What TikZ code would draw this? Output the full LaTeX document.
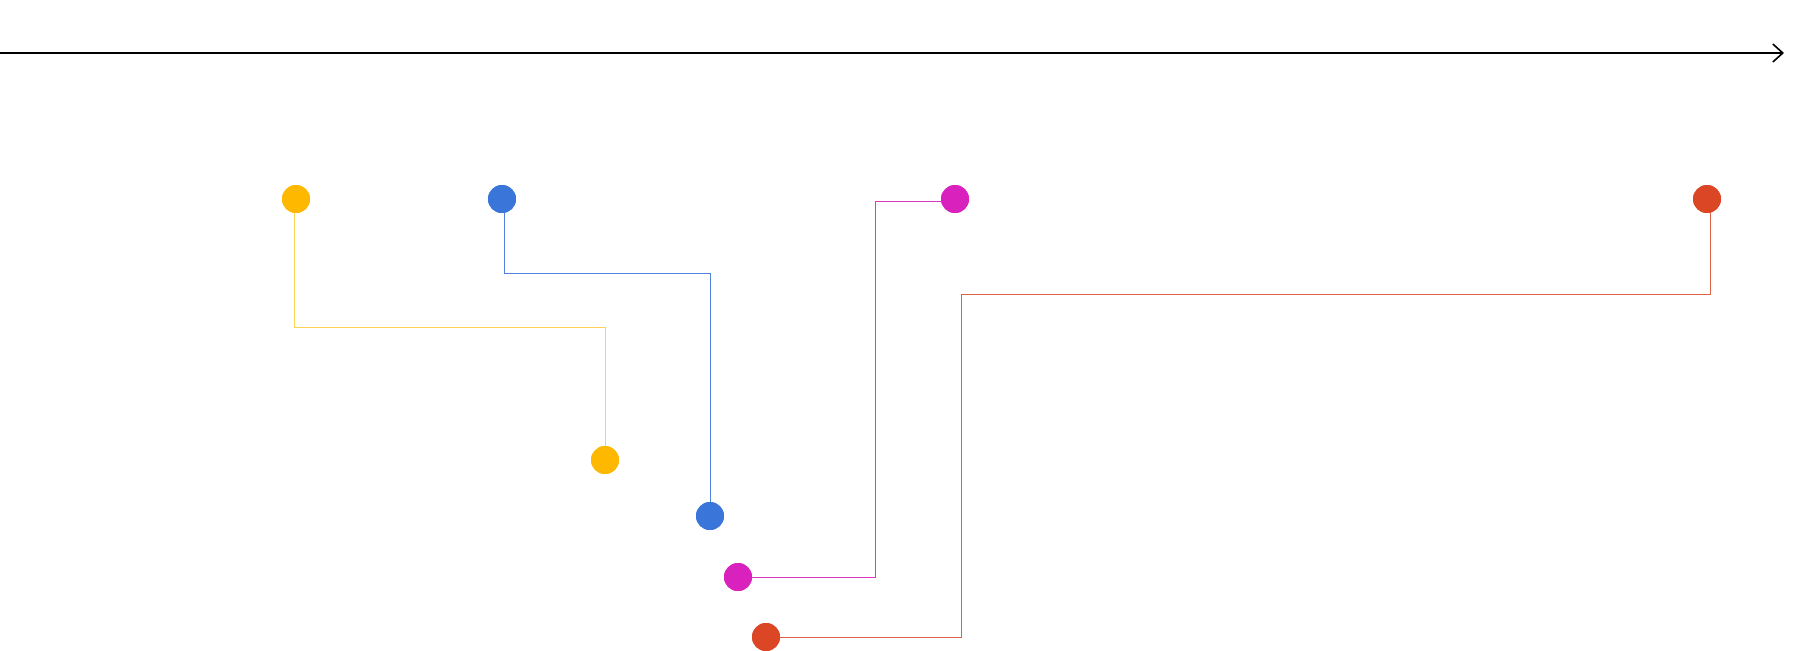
\documentclass[tikz,border=0pt]{standalone}
\usetikzlibrary{arrows.meta}
\definecolor{cyel}{HTML}{FFB800}
\definecolor{cblu}{HTML}{3A75DA}
\definecolor{cmag}{HTML}{D921BE}
\definecolor{cred}{HTML}{DB4625}
\begin{document}
\begin{tikzpicture}[x=0.5pt,y=-0.5pt,
  dot/.style={circle,fill=#1,inner sep=0pt,minimum size=14pt},
  link/.style={draw=#1,line width=0.5pt}]
\useasboundingbox (0,0) rectangle (1796,650);
% axis
\coordinate (a0) at (0,53);
\coordinate (a1) at (1784,53);
\draw[line width=0.8pt,-{Straight Barb[length=5pt,width=9pt]}] (a0) -- (a1);
% dots
\node[dot=cyel] (y1) at (296,199) {};
\node[dot=cyel] (y2) at (605,460) {};
\node[dot=cblu] (b1) at (502,199) {};
\node[dot=cblu] (b2) at (710,516) {};
\node[dot=cmag] (m1) at (955,199) {};
\node[dot=cmag] (m2) at (738,577) {};
\node[dot=cred] (r1) at (1707,199) {};
\node[dot=cred] (r2) at (766,637) {};
% connectors
\draw[link=cyel!65] (y1.center) ++(-2,0) |- (605,327) -- (y2);
\draw[link=cblu!90] (b1.center) ++(2,0) |- (710,273) -- (b2);
\draw[link=cmag!90] (m1.center) ++(0,2) -- (875,201) |- (m2);
\draw[link=cred!85] (r1.center) ++(3,0) |- (961,294) |- (r2);
% dots on top of the connectors
\foreach \n/\c in {y1/cyel,y2/cyel,b1/cblu,b2/cblu,m1/cmag,m2/cmag,r1/cred,r2/cred}
  \fill[\c] (\n) circle (7pt);
\end{tikzpicture}
\end{document}
